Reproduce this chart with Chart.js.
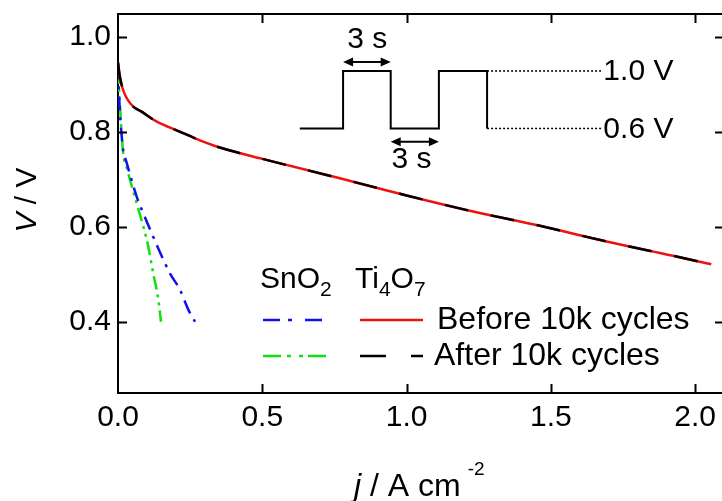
<!DOCTYPE html>
<html>
<head>
<meta charset="utf-8">
<script src="https://cdn.jsdelivr.net/npm/chart.js@4.4.0/dist/chart.umd.min.js"></script>
<style>
  html, body { margin: 0; padding: 0; background: #fff; overflow: hidden; }
  #wrap { width: 730px; height: 501px; }
</style>
</head>
<body>
<div id="wrap"><canvas id="chart" width="730" height="501"></canvas></div>
<script>
// polarization curves, j in A cm-2, V in volts
const tiBeforeJ = [0.0, 0.005, 0.012, 0.020, 0.035, 0.053, 0.080, 0.130, 0.215, 0.284, 0.347, 0.5, 0.769, 1.0, 1.231, 1.462, 1.693, 1.923, 2.056];
const tiBeforeV = [0.946, 0.922, 0.900, 0.884, 0.866, 0.853, 0.843, 0.823, 0.800, 0.782, 0.768, 0.743, 0.702, 0.666, 0.632, 0.602, 0.569, 0.539, 0.521];
const tiAfterJ = [0.0, 0.005, 0.012, 0.020, 0.035, 0.053, 0.080, 0.130, 0.215, 0.284, 0.347, 0.5, 0.769, 1.0, 1.231, 1.462, 1.693, 1.923, 2.056];
const tiAfterV = [0.946, 0.922, 0.900, 0.884, 0.866, 0.853, 0.843, 0.823, 0.800, 0.782, 0.768, 0.743, 0.702, 0.666, 0.632, 0.602, 0.569, 0.539, 0.521];
const snBeforeJ = [0.0, 0.005, 0.013, 0.018, 0.030, 0.042, 0.065, 0.088, 0.117, 0.145, 0.180, 0.215, 0.244, 0.267];
const snBeforeV = [0.940, 0.860, 0.790, 0.761, 0.735, 0.709, 0.663, 0.628, 0.586, 0.547, 0.502, 0.467, 0.425, 0.400];
const snAfterJ = [0.0, 0.007, 0.018, 0.030, 0.042, 0.065, 0.088, 0.105, 0.122, 0.140, 0.149];
const snAfterV = [0.930, 0.853, 0.755, 0.725, 0.698, 0.649, 0.600, 0.558, 0.502, 0.446, 0.400];

const xTicks = [0.0, 0.5, 1.0, 1.5, 2.0];
const yTicks = [0.4, 0.6, 0.8, 1.0];

// inset sketch of the potential-step cycle, placed in data space
const waveJ = [0.630, 0.780, 0.780, 0.945, 0.945, 1.112, 1.112, 1.279, 1.279];
const waveV = [0.807, 0.807, 0.928, 0.928, 0.807, 0.807, 0.928, 0.928, 0.807];
const levelJ = [1.279, 1.675];
const levelV = [0.928, 0.807];
const levelLabels = ["1.0 V", "0.6 V"];

const FONT = "'Liberation Sans', Arial, sans-serif";

const pts = (xs, ys) => xs.map((x, i) => ({ x, y: ys[i] }));

function curve(data, color, dash, width) {
  return {
    data, borderColor: color, borderWidth: width, borderDash: dash,
    pointRadius: 0, cubicInterpolationMode: "monotone", fill: false,
  };
}

function arrow(ctx, x1, x2, y) {
  const h = 10, w = 4.5;
  ctx.beginPath();
  ctx.moveTo(x1 + h - 2, y); ctx.lineTo(x2 - h + 2, y);
  ctx.stroke();
  ctx.beginPath();
  ctx.moveTo(x1, y); ctx.lineTo(x1 + h, y - w); ctx.lineTo(x1 + h, y + w); ctx.closePath();
  ctx.moveTo(x2, y); ctx.lineTo(x2 - h, y - w); ctx.lineTo(x2 - h, y + w); ctx.closePath();
  ctx.fill();
}

// text with a smaller shifted run, for sub/superscripts
function runs(ctx, x, y, parts) {
  for (const [t, size, dy, style, gap] of parts) {
    x += gap || 0;
    ctx.font = (style || "") + " " + size + "px " + FONT;
    ctx.fillText(t, x, y + dy);
    x += ctx.measureText(t).width;
  }
  return x;
}

const extras = {
  id: "extras",
  afterDraw(chart) {
    const { ctx, chartArea: a, scales: { x, y } } = chart;
    ctx.save();
    ctx.strokeStyle = "#000";
    ctx.fillStyle = "#000";
    ctx.lineWidth = 2;
    ctx.setLineDash([]);

    // frame top / right and inward ticks
    ctx.beginPath();
    ctx.moveTo(a.left, a.top); ctx.lineTo(a.right, a.top); ctx.lineTo(a.right, a.bottom);
    xTicks.forEach(v => {
      if (v === 0) return;
      const p = Math.round(x.getPixelForValue(v)) + 0.5;
      ctx.moveTo(p, a.bottom); ctx.lineTo(p, a.bottom - 9);
      ctx.moveTo(p, a.top); ctx.lineTo(p, a.top + 9);
    });
    yTicks.forEach(v => {
      const p = Math.round(y.getPixelForValue(v)) + 0.5;
      ctx.moveTo(a.left, p); ctx.lineTo(a.left + 9, p);
      ctx.moveTo(a.right, p); ctx.lineTo(a.right - 9, p);
    });
    ctx.stroke();

    // inset arrows and labels
    ctx.lineWidth = 2;
    arrow(ctx, x.getPixelForValue(waveJ[1]), x.getPixelForValue(waveJ[3]), y.getPixelForValue(0.947));
    arrow(ctx, x.getPixelForValue(waveJ[4]), x.getPixelForValue(waveJ[6]), y.getPixelForValue(0.779));
    ctx.textBaseline = "middle";
    ctx.textAlign = "center";
    ctx.font = "30px " + FONT;
    ctx.fillText("3 s", x.getPixelForValue(0.864), y.getPixelForValue(0.993));
    ctx.fillText("3 s", x.getPixelForValue(1.017), y.getPixelForValue(0.742));
    ctx.textAlign = "left";
    levelV.forEach((v, i) => {
      ctx.fillText(levelLabels[i], x.getPixelForValue(levelJ[1]) + 2, y.getPixelForValue(v) + 1);
    });

    // legend
    ctx.textBaseline = "alphabetic";
    runs(ctx, 260, 288, [["SnO", 30, 0], ["2", 21, 8]]);
    runs(ctx, 355, 288, [["Ti", 30, 0], ["4", 21, 8], ["O", 30, 0], ["7", 21, 8]]);
    const sample = (x1, x2, yy, color, dash) => {
      ctx.strokeStyle = color; ctx.setLineDash(dash);
      ctx.beginPath(); ctx.moveTo(x1, yy); ctx.lineTo(x2, yy); ctx.stroke();
    };
    ctx.lineWidth = 2.5;
    sample(263, 323, 320, "#1010f0", [17, 8, 4, 13]);
    sample(263, 327, 356, "#10e010", [18, 6, 4, 8, 4, 5]);
    sample(360, 423, 320, "#f01010", []);
    sample(360, 423, 356, "#000", [26, 25]);
    ctx.setLineDash([]);
    ctx.textBaseline = "middle";
    ctx.font = "32px " + FONT;
    ctx.fillText("Before 10k cycles", 437, 320);
    ctx.fillText("After 10k cycles", 434, 356);

    // axis titles
    ctx.textBaseline = "alphabetic";
    runs(ctx, 354, 496, [["j", 32, 0, "italic"], [" / A cm", 32, 0], ["-2", 19, -21, "", 7]]);
    ctx.save();
    ctx.translate(36, 200);
    ctx.rotate(-Math.PI / 2);
    ctx.font = "italic 30px " + FONT;
    const w1 = ctx.measureText("V").width;
    ctx.font = "30px " + FONT;
    const w2 = ctx.measureText(" / V").width;
    runs(ctx, -(w1 + w2) / 2, 0, [["V", 30, 0, "italic"], [" / V", 30, 0]]);
    ctx.restore();

    ctx.restore();
  },
};

// Chart.js paints the first dataset last, so the overlays come first here
new Chart(document.getElementById("chart"), {
  type: "line",
  data: {
    datasets: [
      { data: pts(waveJ, waveV), borderColor: "#000", borderWidth: 2, pointRadius: 0, tension: 0 },
      { data: pts(levelJ, [levelV[0], levelV[0]]), borderColor: "#000", borderWidth: 1.5, borderDash: [2, 2], pointRadius: 0 },
      { data: pts(levelJ, [levelV[1], levelV[1]]), borderColor: "#000", borderWidth: 1.5, borderDash: [2, 2], pointRadius: 0 },
      curve(pts(tiAfterJ, tiAfterV), "#000", [24, 23], 2.5),
      curve(pts(tiBeforeJ, tiBeforeV), "#f01010", [], 2.5),
      curve(pts(snBeforeJ, snBeforeV), "#1010f0", [14, 7, 3, 7], 2.5),
      curve(pts(snAfterJ, snAfterV), "#10e010", [14, 5, 3, 5, 3, 5], 2.5),
    ],
  },
  options: {
    responsive: false,
    animation: false,
    layout: { padding: { top: 14, right: 6, left: 0, bottom: 0 } },
    plugins: { legend: { display: false }, tooltip: { enabled: false } },
    scales: {
      x: {
        type: "linear", min: 0, max: 2.1,
        afterBuildTicks: s => { s.ticks = xTicks.map(v => ({ value: v })); },
        afterFit: s => { s.height = 108; s.paddingLeft = 0; s.paddingRight = 0; },
        grid: { display: false, drawTicks: false },
        border: { display: true, color: "#000", width: 2 },
        ticks: { padding: 7, color: "#000", font: { family: FONT, size: 30 }, callback: v => Number(v).toFixed(1), maxRotation: 0 },
      },
      y: {
        type: "linear", min: 0.25, max: 1.048,
        afterBuildTicks: s => { s.ticks = yTicks.map(v => ({ value: v })); },
        afterFit: s => { s.width = 118; s.paddingTop = 0; s.paddingBottom = 0; },
        grid: { display: false, drawTicks: false },
        border: { display: true, color: "#000", width: 2 },
        ticks: { padding: 7, color: "#000", font: { family: FONT, size: 30 }, callback: v => Number(v).toFixed(1) },
      },
    },
  },
  plugins: [extras],
});
</script>
</body>
</html>
